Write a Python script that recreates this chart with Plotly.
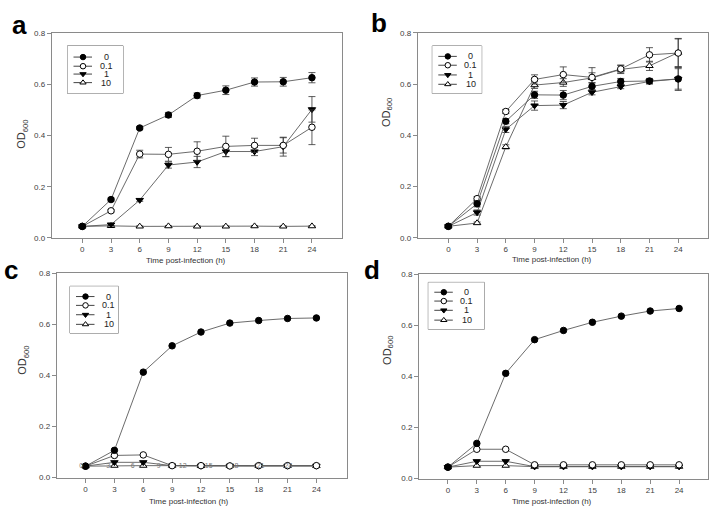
import plotly.graph_objects as go

W, H = 720, 520

# ---------------- data ----------------
time_h = [0, 3, 6, 9, 12, 15, 18, 21, 24]
series_names = ["0", "0.1", "1", "10"]

a_0 = [0.045, 0.150, 0.430, 0.481, 0.557, 0.578, 0.610, 0.611, 0.627]
a_0_err = [0.003, 0.006, 0.006, 0.010, 0.010, 0.017, 0.016, 0.017, 0.020]
a_01 = [0.045, 0.106, 0.328, 0.327, 0.339, 0.358, 0.362, 0.362, 0.433]
a_01_err = [0.003, 0.005, 0.015, 0.027, 0.037, 0.040, 0.028, 0.030, 0.068]
a_1 = [0.045, 0.052, 0.148, 0.285, 0.297, 0.338, 0.338, 0.357, 0.503]
a_1_err = [0.003, 0.004, 0.005, 0.012, 0.022, 0.020, 0.016, 0.037, 0.050]
a_10 = [0.045, 0.047, 0.045, 0.046, 0.045, 0.045, 0.046, 0.045, 0.046]
a_10_err = [0.002, 0.002, 0.002, 0.002, 0.002, 0.002, 0.002, 0.002, 0.002]

b_0 = [0.045, 0.133, 0.455, 0.558, 0.557, 0.591, 0.610, 0.612, 0.620]
b_0_err = [0.003, 0.012, 0.010, 0.014, 0.018, 0.015, 0.012, 0.010, 0.045]
b_01 = [0.045, 0.153, 0.493, 0.618, 0.637, 0.626, 0.659, 0.714, 0.721]
b_01_err = [0.003, 0.008, 0.008, 0.018, 0.030, 0.038, 0.015, 0.028, 0.055]
b_1 = [0.045, 0.099, 0.423, 0.516, 0.518, 0.568, 0.590, 0.610, 0.620]
b_1_err = [0.003, 0.010, 0.012, 0.018, 0.014, 0.010, 0.008, 0.010, 0.040]
b_10 = [0.045, 0.058, 0.355, 0.596, 0.606, 0.624, 0.657, 0.671, 0.723]
b_10_err = [0.003, 0.004, 0.008, 0.013, 0.015, 0.020, 0.016, 0.018, 0.055]

c_0 = [0.045, 0.107, 0.413, 0.516, 0.570, 0.605, 0.615, 0.623, 0.625]
c_01 = [0.045, 0.087, 0.089, 0.047, 0.047, 0.046, 0.047, 0.047, 0.047]
c_1 = [0.045, 0.060, 0.060, 0.047, 0.046, 0.046, 0.046, 0.046, 0.046]
c_10 = [0.045, 0.047, 0.047, 0.047, 0.046, 0.046, 0.046, 0.046, 0.046]

# stray point labels visible in panel c
c_stray_text = ["0", "3", "6", "9", "12", "15", "18", "21", "24"]
c_stray_x = [-0.45, 2.35, 4.9, 7.6, 10.1, 12.8, 15.5, 18.2, 21.1]
c_stray_y = [0.046] * 9

d_0 = [0.045, 0.138, 0.412, 0.544, 0.580, 0.612, 0.636, 0.656, 0.666]
d_01 = [0.045, 0.115, 0.115, 0.054, 0.054, 0.054, 0.054, 0.054, 0.054]
d_1 = [0.045, 0.068, 0.068, 0.047, 0.047, 0.047, 0.047, 0.047, 0.047]
d_10 = [0.045, 0.051, 0.051, 0.047, 0.047, 0.047, 0.047, 0.047, 0.047]

x_ticks = [0, 3, 6, 9, 12, 15, 18, 21, 24]
y_ticks = [0.0, 0.2, 0.4, 0.6, 0.8]
x_title = "Time post-infection (h)"
y_title = "OD<sub>600</sub>"

# ---------------- styles ----------------
FONT = "Liberation Sans, Arial, sans-serif"
LINE_C = "#5a5a5a"
FRAME_C = "#8a8a8a"
markers = {
    "0": dict(symbol="circle", color="black", line=dict(color="black", width=1)),
    "0.1": dict(symbol="circle", color="white", line=dict(color="black", width=1)),
    "1": dict(symbol="triangle-down", color="black", line=dict(color="black", width=1)),
    "10": dict(symbol="triangle-up", color="white", line=dict(color="black", width=1)),
}
draw_order = ["10", "1", "0.1", "0"]

panels = [
    dict(name="a", letter_xy=(19.5, 21), xpx=(51.7, 341.6), ypx=(30, 238), xr=[-3.2, 27.1],
         ytitle_xy=(22, 133), xtitle_y=261.5,
         vals={"0": a_0, "0.1": a_01, "1": a_1, "10": a_10},
         errs={"0": a_0_err, "0.1": a_01_err, "1": a_1_err, "10": a_10_err},
         leg=dict(x=(67.5, 123.0), y=(42.5, 91.0), rows=[54.0, 63.3, 71.3, 80.0])),
    dict(name="b", letter_xy=(379, 19), xpx=(417.7, 707.9), ypx=(29.3, 238), xr=[-3.2, 27.1],
         ytitle_xy=(387, 111), xtitle_y=260,
         vals={"0": b_0, "0.1": b_01, "1": b_1, "10": b_10},
         errs={"0": b_0_err, "0.1": b_01_err, "1": b_1_err, "10": b_10_err},
         leg=dict(x=(432.3, 481.7), y=(42.7, 91.0), rows=[53.3, 62.3, 72.2, 81.7])),
    dict(name="c", letter_xy=(11, 271), xpx=(56.7, 346.7), ypx=(274, 482), xr=[-3.0, 27.15],
         ytitle_xy=(23, 363), xtitle_y=506,
         vals={"0": c_0, "0.1": c_01, "1": c_1, "10": c_10}, errs=None,
         leg=dict(x=(70.0, 118.3), y=(287.3, 335.0), rows=[297.7, 306.7, 316.2, 326.0])),
    dict(name="d", letter_xy=(371.5, 271), xpx=(419, 708), ypx=(275, 483), xr=[-3.0, 27.0],
         ytitle_xy=(388, 353), xtitle_y=506,
         vals={"0": d_0, "0.1": d_01, "1": d_1, "10": d_10}, errs=None,
         leg=dict(x=(428.3, 484.3), y=(283.3, 331.0), rows=[293.3, 302.3, 311.7, 321.7])),
]

fig = go.Figure()
layout = dict(width=W, height=H, margin=dict(l=0, r=0, t=0, b=0),
              paper_bgcolor="white", plot_bgcolor="white", showlegend=False,
              font=dict(family=FONT, color="#333333"))
annotations = []
shapes = []


def px2x(p):
    return p / W


def px2y(p):
    return 1 - p / H


for i, p in enumerate(panels):
    k = i + 1
    xa = "x" if k == 1 else f"x{k}"
    ya = "y" if k == 1 else f"y{k}"
    layout["xaxis" if k == 1 else f"xaxis{k}"] = dict(
        domain=[px2x(p["xpx"][0]), px2x(p["xpx"][1])], range=p["xr"], anchor=ya,
        tickvals=x_ticks, ticks="outside", ticklen=4, tickwidth=1, tickcolor=FRAME_C,
        showline=True, mirror=True, linecolor=FRAME_C, linewidth=1,
        showgrid=False, zeroline=False, tickfont=dict(size=8, color="#404040"))
    layout["yaxis" if k == 1 else f"yaxis{k}"] = dict(
        domain=[px2y(p["ypx"][1]), px2y(p["ypx"][0])], range=[0, 0.8], anchor=xa,
        tickvals=y_ticks, tickformat=".1f", ticks="outside", ticklen=4, tickwidth=1,
        tickcolor=FRAME_C, showline=True, mirror=True, linecolor=FRAME_C, linewidth=1,
        showgrid=False, zeroline=False, tickfont=dict(size=8, color="#404040"))

    for s in draw_order:
        err = None
        if p["errs"] is not None:
            err = dict(type="data", array=p["errs"][s], visible=True, color="#333333",
                       thickness=0.8, width=3.5)
        fig.add_trace(go.Scatter(
            x=time_h, y=p["vals"][s], mode="lines+markers", xaxis=xa, yaxis=ya,
            line=dict(color=LINE_C, width=0.9), marker=dict(size=6.5, **markers[s]),
            error_y=err, name=s, showlegend=False, cliponaxis=False))

    # letters and axis titles
    annotations.append(dict(text=f"<b>{p['name']}</b>", x=px2x(p["letter_xy"][0]),
                            y=px2y(p["letter_xy"][1]), xref="paper", yref="paper",
                            xanchor="center", yanchor="middle", showarrow=False,
                            font=dict(size=26, color="black", family=FONT)))
    annotations.append(dict(text=x_title, x=10.8, xref=xa, y=px2y(p["xtitle_y"]), yref="paper",
                            xanchor="center", yanchor="middle", showarrow=False,
                            font=dict(size=8, color="#333333")))
    annotations.append(dict(text=y_title, x=px2x(p["ytitle_xy"][0]), y=px2y(p["ytitle_xy"][1]),
                            xref="paper", yref="paper", textangle=-90, xanchor="center",
                            yanchor="middle", showarrow=False,
                            font=dict(size=11, color="#333333")))

    # legend drawn on its own pixel-unit axes
    lg = p["leg"]
    lk = k + 4
    lxa, lya = f"x{lk}", f"y{lk}"
    wpx = lg["x"][1] - lg["x"][0]
    hpx = lg["y"][1] - lg["y"][0]
    layout[f"xaxis{lk}"] = dict(domain=[px2x(lg["x"][0]), px2x(lg["x"][1])], range=[0, wpx],
                                anchor=lya, visible=False, fixedrange=True)
    layout[f"yaxis{lk}"] = dict(domain=[px2y(lg["y"][1]), px2y(lg["y"][0])], range=[hpx, 0],
                                anchor=lxa, visible=False, fixedrange=True)
    shapes.append(dict(type="rect", xref="paper", yref="paper",
                       x0=px2x(lg["x"][0]), x1=px2x(lg["x"][1]),
                       y0=px2y(lg["y"][1]), y1=px2y(lg["y"][0]),
                       line=dict(color="#6a6a6a", width=1), fillcolor="white", layer="below"))
    for s, row in zip(series_names, lg["rows"]):
        ry = row - lg["y"][0]
        fig.add_trace(go.Scatter(x=[6, 24.5], y=[ry, ry], mode="lines", xaxis=lxa, yaxis=lya,
                                 line=dict(color="#444444", width=1), showlegend=False,
                                 hoverinfo="skip"))
        fig.add_trace(go.Scatter(x=[15.5], y=[ry], mode="markers", xaxis=lxa, yaxis=lya,
                                 marker=dict(size=5.5, **markers[s]), showlegend=False,
                                 hoverinfo="skip"))
        annotations.append(dict(text=s, x=38.5, y=ry, xref=lxa, yref=lya, xanchor="center",
                                yanchor="middle", showarrow=False, borderpad=0,
                                font=dict(size=9, color="#222222")))

# stray labels in panel c
fig.add_trace(go.Scatter(x=c_stray_x, y=c_stray_y, mode="text", text=c_stray_text,
                         xaxis="x3", yaxis="y3", textfont=dict(size=7, color="#777777"),
                         textposition="middle center", showlegend=False, hoverinfo="skip"))

layout["annotations"] = annotations
layout["shapes"] = shapes
fig.update_layout(**layout)
fig.write_html("out.html", config={"displayModeBar": False},
               post_script="document.body.style.margin='0';document.body.style.overflow='hidden';")
